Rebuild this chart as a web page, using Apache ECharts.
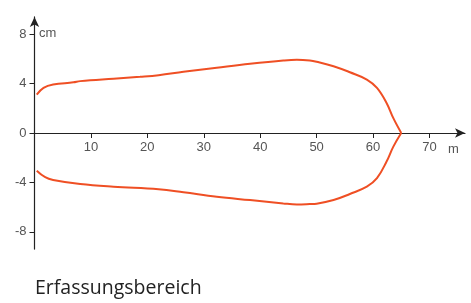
<!DOCTYPE html>
<html>
<head>
<meta charset="utf-8">
<script src="https://cdn.jsdelivr.net/npm/echarts@6/dist/echarts.min.js"></script>
<style>html,body{margin:0;padding:0;background:#fff}#c{width:471px;height:303px}</style>
</head>
<body>
<div id="c"></div>
<script>
// distance along range (m)
const upperX = [0.4, 1.6, 3.3, 6.9, 8.1, 14, 18.7, 22, 26.4, 32.3, 38.2, 44.1, 46.5, 48.8, 50, 53, 55.9, 58.9, 60.7, 62.4, 63.6, 65];
const upperY = [3.1, 3.65, 3.92, 4.1, 4.2, 4.4, 4.55, 4.68, 4.95, 5.28, 5.6, 5.87, 5.93, 5.87, 5.77, 5.41, 4.92, 4.33, 3.65, 2.43, 1.2, 0];
const lowerX = [0.4, 1.9, 3.3, 8.1, 14, 22, 26.4, 32.3, 38.2, 44.1, 46.5, 48.8, 50, 53, 55.9, 58.9, 60.7, 62.4, 63.6, 65];
const lowerY = [-3.05, -3.58, -3.8, -4.13, -4.35, -4.56, -4.8, -5.16, -5.43, -5.7, -5.78, -5.75, -5.72, -5.43, -4.94, -4.35, -3.66, -2.31, -1.1, 0];
const xTicks = [10, 20, 30, 40, 50, 60, 70];
const yTicks = [-8, -4, 0, 4, 8];
const xUnit = 'm';
const yUnit = 'cm';
const caption = 'Erfassungsbereich';

const zip = (a, b) => a.map((v, i) => [v, b[i]]);
const lineColor = '#ef4f24';
const font = 'Liberation Sans, Arial, sans-serif';
const yMin = -9.4, yMax = 9.4;
const gridTop = 16.9, gridBottom = 53.9, H = 303;
const plotH = H - gridTop - gridBottom;
const zeroOffset = -plotH * (0 - yMin) / (yMax - yMin);

const chart = echarts.init(document.getElementById('c'), null, {renderer: 'canvas'});
chart.setOption({
  animation: false,
  grid: {left: 34.5, right: 6, top: gridTop, bottom: gridBottom, containLabel: false},
  xAxis: {
    type: 'value', min: 0, max: 76.3, offset: zeroOffset,
    axisLine: {show: true, onZero: false, lineStyle: {color: '#222', width: 1.2}, symbol: ['none', 'arrow'], symbolSize: [7, 10]},
    axisTick: {show: true, inside: false, length: 5, customValues: xTicks, lineStyle: {color: '#222'}},
    axisLabel: {customValues: xTicks, color: '#555', fontSize: 13, fontFamily: font, margin: 8},
    splitLine: {show: false}
  },
  yAxis: {
    type: 'value', min: yMin, max: yMax,
    axisLine: {show: true, onZero: false, lineStyle: {color: '#222', width: 1.2}, symbol: ['none', 'arrow'], symbolSize: [7, 10]},
    axisTick: {show: true, length: 5, customValues: yTicks, lineStyle: {color: '#222'}},
    axisLabel: {customValues: yTicks, color: '#555', fontSize: 13, fontFamily: font, margin: 8},
    splitLine: {show: false}
  },
  graphic: [
    {type: 'text', left: 39, top: 27, style: {text: yUnit, fill: '#555', font: '13px ' + font}},
    {type: 'text', left: 448, top: 143, style: {text: xUnit, fill: '#555', font: '13px ' + font}},
    {type: 'text', left: 35, top: 278, style: {text: caption, fill: '#222', font: '19.5px "Open Sans", ' + font}}
  ],
  series: [
    {type: 'line', data: zip(upperX, upperY), smooth: 0.4, showSymbol: false, lineStyle: {color: lineColor, width: 2}},
    {type: 'line', data: zip(lowerX, lowerY), smooth: 0.4, showSymbol: false, lineStyle: {color: lineColor, width: 2}}
  ]
});
</script>
</body>
</html>
